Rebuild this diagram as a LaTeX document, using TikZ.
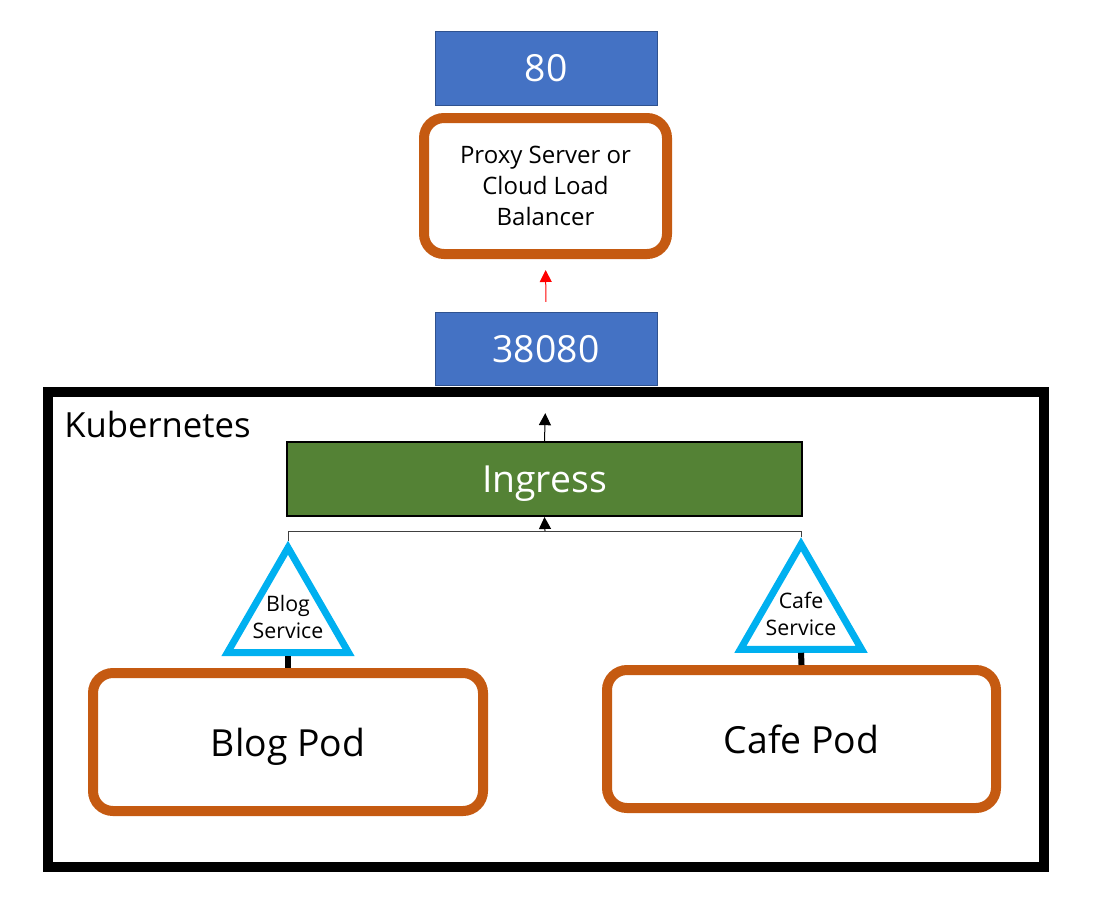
\documentclass[tikz,border=0pt]{standalone}
\usepackage{fontspec}
\setmainfont{Open Sans}
\usetikzlibrary{shapes.geometric,arrows.meta}
\definecolor{portblue}{HTML}{4472C4}
\definecolor{portedge}{HTML}{2F528F}
\definecolor{podorange}{HTML}{C55A11}
\definecolor{ingressgreen}{HTML}{548235}
\definecolor{svccyan}{HTML}{00B0F0}
\begin{document}
\begin{tikzpicture}[x=0.75pt,y=-0.75pt,
    port node/.style={rectangle,draw=portedge,line width=0.75pt,fill=portblue,text=white,font=\fontsize{28}{34}\selectfont,minimum width=166.5pt,minimum height=55pt,inner sep=0pt},
    pod node/.style={rectangle,rounded corners=15pt,draw=podorange,line width=7.5pt,fill=white,font=\fontsize{28}{34}\selectfont,inner sep=0pt},
    svc node/.style={regular polygon,regular polygon sides=3,draw=svccyan,line width=5.25pt,fill=white,minimum size=105pt,inner sep=0pt},
    svc text/.style={align=center,font=\fontsize{16}{20}\selectfont,inner sep=0pt},
    flow arrow/.style={-{Triangle[width=9pt,length=9pt]},line width=0.75pt}]
    \useasboundingbox (0,0) rectangle (1094,918);

    \node[port node] (port80) at (546,68.5) {80};
    \node[pod node,minimum width=182.25pt,minimum height=102pt,align=center,font=\fontsize{18}{23.25}\selectfont] (proxy) at (545.5,186) {Proxy Server or\\Cloud Load\\Balancer};
    \node[port node] (port38080) at (546,349) {38080};

    \node[draw,line width=7.5pt,minimum width=747pt,minimum height=356.25pt,inner sep=0pt] (kube) at (546,629.5) {};
    \node[anchor=base west,inner sep=0pt,font=\fontsize{26}{30}\selectfont] (kubelabel) at (64,437) {Kubernetes};
    \node[draw,line width=1.5pt,fill=ingressgreen,text=white,minimum width=386.25pt,minimum height=55.5pt,inner sep=0pt,text depth=0pt,font=\fontsize{28}{34}\selectfont] (ingress) at (544.5,479) {Ingress};

    \node[svc node] (blogsvc) at (288,617.7) {};
    \node[svc text] (blogsvctext) at (288,617) {Blog\\Service};
    \node[svc node] (cafesvc) at (801,614.3) {};
    \node[svc text] (cafesvctext) at (801,614) {Cafe\\Service};

    \node[pod node,minimum width=292.5pt,minimum height=103.5pt,text depth=0pt] (blogpod) at (288,742) {Blog Pod};
    \node[pod node,minimum width=291.75pt,minimum height=103.5pt,text depth=0pt] (cafepod) at (801.5,739) {Cafe Pod};

    % stubs from services to pods
    \draw[line width=4.5pt] (blogsvc.south) -- (blogpod.north);
    \draw[line width=4.5pt] (cafesvc.south) -- (cafepod.north);

    % services join into ingress
    \coordinate (join) at (545,531);
    \draw[line width=0.75pt,draw=darkgray] (blogsvc.corner 1) |- (join) -| (cafesvc.corner 1);
    \draw[flow arrow] (join) -- (ingress.south);
    \draw[flow arrow,shorten >=20.25pt] (ingress.north) -- (port38080.south);
    \draw[flow arrow,red,shorten <=7.5pt,shorten >=8.25pt] (port38080.north) -- (proxy.south);
\end{tikzpicture}
\end{document}
